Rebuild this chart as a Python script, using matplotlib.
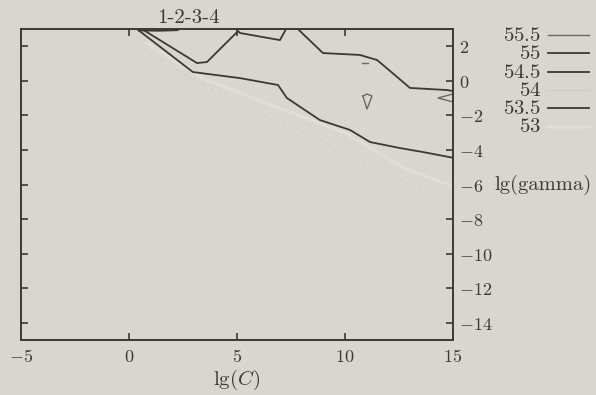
import numpy as np
import matplotlib.pyplot as plt
from matplotlib.lines import Line2D
from matplotlib.ticker import FuncFormatter

FONT_SIZE = 13
plt.rcParams['mathtext.fontset'] = 'cm'
plt.rcParams['font.size'] = FONT_SIZE

BG = '#d8d6cf'
INK = '#3a3a35'

# contour levels shown in the key
levels = ['55.5', '55', '54.5', '54', '53.5', '53']
level_colors = ['#6a6a63', INK, INK, '#cbc9c2', INK, '#dfddd7']
level_widths = [1.0, 1.3, 1.3, 0.8, 1.3, 2.6]

# contour pieces, (lg C, lg gamma)
c555_dash_x = [10.79, 11.06]
c555_dash_y = [1.05, 1.05]
c555_drop_x = [10.83, 11.02, 11.25, 11.02, 10.83]
c555_drop_y = [-0.88, -0.76, -0.88, -1.63, -0.88]
c555_wedge_x = [15.0, 14.31, 15.0]
c555_wedge_y = [-0.76, -0.99, -1.22]

c55_x = [7.82, 8.98, 10.69, 11.48, 11.76, 13.01, 14.72, 15.0]
c55_y = [3.0, 1.61, 1.50, 1.21, 0.92, -0.41, -0.53, -0.59]

c545_x = [0.60, 3.15, 3.61, 5.05, 5.14, 6.99, 7.27]
c545_y = [3.0, 1.03, 1.09, 2.88, 2.77, 2.36, 3.0]
c545_top_x = [0.45, 1.4, 2.22, 2.36]
c545_top_y = [2.92, 2.9, 2.93, 3.0]

c535_x = [0.37, 2.96, 5.14, 6.90, 7.31, 8.84, 10.23, 11.16, 12.55, 13.61, 15.0]
c535_y = [3.0, 0.51, 0.16, -0.24, -0.99, -2.27, -2.84, -3.54, -3.89, -4.12, -4.45]

c54_x = [0.97, 5.14, 8.84, 11.62, 13.15, 14.40]
c54_y = [1.50, -1.40, -3.42, -5.33, -6.03, -6.78]

c53_x = [0.8, 3.5, 7.2, 10.0, 12.8, 15.0]
c53_y = [2.2, 0.1, -1.7, -3.0, -5.1, -6.1]

x_ticks = [-5, 0, 5, 10, 15]
y_ticks = [2, 0, -2, -4, -6, -8, -10, -12, -14]

fig = plt.figure(figsize=(5.96, 3.95), dpi=100, facecolor=BG)
ax = fig.add_axes([0.0352, 0.1392, 0.7248, 0.7873], facecolor=BG)

ax.plot(c53_x, c53_y, color=level_colors[5], lw=level_widths[5], solid_capstyle='round')
ax.plot(c54_x, c54_y, color=level_colors[3], lw=level_widths[3], ls=(0, (2, 7)))
ax.plot(c535_x, c535_y, color=level_colors[4], lw=level_widths[4])
ax.plot(c545_x, c545_y, color=level_colors[2], lw=level_widths[2])
ax.plot(c545_top_x, c545_top_y, color=level_colors[2], lw=level_widths[2])
ax.plot(c55_x, c55_y, color=level_colors[1], lw=level_widths[1])
for px, py in [(c555_dash_x, c555_dash_y), (c555_drop_x, c555_drop_y), (c555_wedge_x, c555_wedge_y)]:
    ax.plot(px, py, color=level_colors[0], lw=level_widths[0])

ax.set_xlim(-5, 15)
ax.set_ylim(-15, 3)
ax.set_xticks(x_ticks)
ax.set_yticks(y_ticks)
fmt = FuncFormatter(lambda v, pos: f'${v:g}$')
ax.xaxis.set_major_formatter(fmt)
ax.yaxis.set_major_formatter(fmt)
ax.tick_params(direction='in', length=5, width=1.2, color=INK, labelcolor=INK,
               top=True, right=True, labelsize=FONT_SIZE)
ax.tick_params(axis='y', labelleft=False, labelright=True, pad=4)
ax.tick_params(axis='x', pad=6)
for s in ax.spines.values():
    s.set_linewidth(1.4)
    s.set_color(INK)

ax.set_xlabel(r'$\mathrm{lg}(C)$', fontsize=15, color=INK, labelpad=1)
ax.text(0.387, 1.008, '1-2-3-4', transform=ax.transAxes, ha='center', va='bottom',
        fontfamily='cmr10', fontsize=15, color=INK)
fig.text(494 / 596, 1 - 185 / 395, 'lg(gamma)', ha='left', va='center',
         fontfamily='cmr10', fontsize=14.8, color=INK)

# key on the right
row0, step = 35, 18.3
for i, lab in enumerate(levels):
    yy = 1 - (row0 + i * step) / 395
    fig.text(541 / 596, yy, f'${lab}$', ha='right', va='center',
             fontsize=15, color=INK)
    fig.add_artist(Line2D([548 / 596, 589 / 596], [yy, yy], transform=fig.transFigure,
                          color=level_colors[i], lw=level_widths[i] if i != 3 else 0.6))

fig.savefig('out.png', dpi=100, facecolor=BG)
